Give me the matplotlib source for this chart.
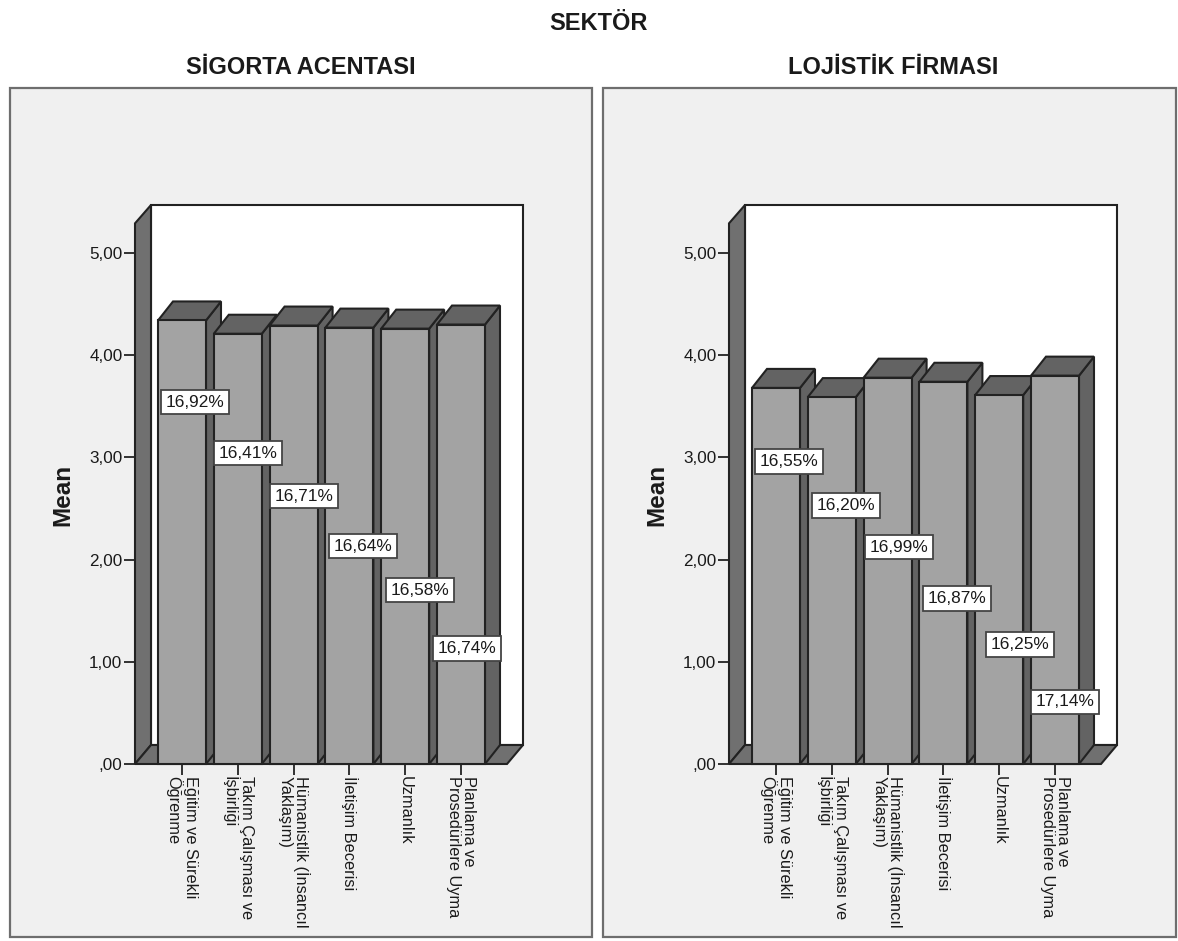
import matplotlib
matplotlib.use("Agg")
import matplotlib.pyplot as plt
from matplotlib.patches import Polygon, Rectangle

plt.rcParams['font.family'] = ['Liberation Sans', 'DejaVu Sans']

W, H = 1178, 941

CATEGORIES = [
    "Eğitim ve Sürekli\nÖğrenme",
    "Takım Çalışması ve\nİşbirliği",
    "Hümanistlik (İnsancıl\nYaklaşım)",
    "İletişim Becerisi",
    "Uzmanlık",
    "Planlama ve\nProsedürlere Uyma",
]
SIGORTA_MEANS = [4.34, 4.21, 4.29, 4.27, 4.26, 4.30]
LOJISTIK_MEANS = [3.68, 3.59, 3.78, 3.74, 3.61, 3.80]
SIGORTA_PCT = ["16,92%", "16,41%", "16,71%", "16,64%", "16,58%", "16,74%"]
LOJISTIK_PCT = ["16,55%", "16,20%", "16,99%", "16,87%", "16,25%", "17,14%"]
# where SPSS dropped the labels, in category / value units
SIGORTA_LABEL_X = [0.23, 1.18, 2.19, 3.25, 4.27, 5.11]
SIGORTA_LABEL_Y = [3.54, 3.04, 2.62, 2.13, 1.70, 1.13]
LOJISTIK_LABEL_X = [0.23, 1.25, 2.20, 3.24, 4.37, 5.18]
LOJISTIK_LABEL_Y = [2.96, 2.53, 2.12, 1.62, 1.17, 0.61]
YTICKS = [0, 1, 2, 3, 4, 5]
YTICKLABELS = [",00", "1,00", "2,00", "3,00", "4,00", "5,00"]

PX_PER_CAT = 55.8
PX_PER_UNIT = 102.2
TOP_VALUE = 5.29  # front top of the side wall
BAR_WIDTH = 48 / PX_PER_CAT

C_PANEL = "#f0f0f0"
C_FRAME = "#6e6e6e"
C_LINE = "#222222"
C_TEXT = "#1a1a1a"
C_FRONT = "#a3a3a3"
C_DARK = "#636363"
C_WALL = "#707070"


def poly(ax, pts, color, z):
    ax.add_patch(Polygon(pts, closed=True, facecolor=color, edgecolor=C_LINE,
                         linewidth=1.5, joinstyle="miter", zorder=z, clip_on=False))


def draw_panel(ox, frame, title, means, pcts, label_x, label_y):
    fig.add_artist(Rectangle((frame[0] / W, 1 - 937 / H), (frame[1] - frame[0]) / W, 849 / H,
                             transform=fig.transFigure, facecolor=C_PANEL,
                             edgecolor=C_FRAME, linewidth=1.6, zorder=-5))
    fig.text(title[1] / W, 1 - 67 / H, title[0], ha="center", va="center",
             fontsize=17, fontweight="bold", color=C_TEXT)

    left, right, bottom, top = ox + 135, ox + 523, 764, 205
    ax = fig.add_axes([left / W, 1 - bottom / H, (right - left) / W, (bottom - top) / H])
    ax.patch.set_alpha(0)
    first_tick = ox + 182
    ax.set_xlim((left - first_tick) / PX_PER_CAT, (right - first_tick) / PX_PER_CAT)
    ax.set_ylim(0, (bottom - top) / PX_PER_UNIT)
    for s in ax.spines.values():
        s.set_visible(False)

    xmin, xmax = ax.get_xlim()
    ymax = ax.get_ylim()[1]
    wall_dx = 16 / PX_PER_CAT
    wall_dy = 19 / PX_PER_UNIT
    bar_dx = 15 / PX_PER_CAT
    bar_dy = 19 / PX_PER_UNIT

    # back wall, side wall, floor
    poly(ax, [(xmin + wall_dx, wall_dy), (xmax, wall_dy), (xmax, ymax), (xmin + wall_dx, ymax)], "white", 1)
    poly(ax, [(xmin, 0), (xmin + wall_dx, wall_dy), (xmin + wall_dx, ymax), (xmin, TOP_VALUE)], C_WALL, 2)
    poly(ax, [(xmin, 0), (xmax - wall_dx, 0), (xmax, wall_dy), (xmin + wall_dx, wall_dy)], C_WALL, 2)

    for i, v in enumerate(means):
        x0, x1 = i - BAR_WIDTH / 2, i + BAR_WIDTH / 2
        z = 3 + i
        poly(ax, [(x1, 0), (x1 + bar_dx, bar_dy), (x1 + bar_dx, v + bar_dy), (x1, v)], C_DARK, z)
        poly(ax, [(x0, v), (x1, v), (x1 + bar_dx, v + bar_dy), (x0 + bar_dx, v + bar_dy)], C_DARK, z)
        poly(ax, [(x0, 0), (x1, 0), (x1, v), (x0, v)], C_FRONT, z + 0.5)

    for x, y, s in zip(label_x, label_y, pcts):
        ax.text(x, y, s, ha="center", va="center", fontsize=12.4, color=C_TEXT, zorder=20,
                bbox=dict(boxstyle="square,pad=0.27", facecolor="white", edgecolor="#444444", linewidth=1.3))

    ax.set_yticks(YTICKS, YTICKLABELS)
    ax.set_xticks(range(len(CATEGORIES)), CATEGORIES)
    ax.tick_params(axis="y", length=8, width=1.3, color=C_LINE, pad=1, labelsize=12.3, labelcolor=C_TEXT)
    ax.tick_params(axis="x", length=8, width=1.3, color=C_LINE, pad=1, labelsize=11.8, labelcolor=C_TEXT)
    for lab in ax.get_xticklabels():
        lab.set_rotation(-90)
        lab.set_ha("center")
        lab.set_va("top")
        lab.set_multialignment("left")
        lab.set_linespacing(1.05)
    ax.set_ylabel("Mean", fontsize=17.5, fontweight="bold", color=C_TEXT, va="center")
    ax.yaxis.set_label_coords((ox + 62.5 - left) / (right - left), (bottom - 495) / (bottom - top))


fig = plt.figure(figsize=(W / 100, H / 100), dpi=100, facecolor="white")
fig.text(598 / W, 1 - 24 / H, "SEKTÖR", ha="center", va="center",
         fontsize=17, fontweight="bold", color=C_TEXT)

draw_panel(0, (10, 592), ("SİGORTA ACENTASI", 301), SIGORTA_MEANS, SIGORTA_PCT,
           SIGORTA_LABEL_X, SIGORTA_LABEL_Y)
draw_panel(594, (603, 1176), ("LOJİSTİK FİRMASI", 893), LOJISTIK_MEANS, LOJISTIK_PCT,
           LOJISTIK_LABEL_X, LOJISTIK_LABEL_Y)

fig.savefig("out.png", dpi=100)
